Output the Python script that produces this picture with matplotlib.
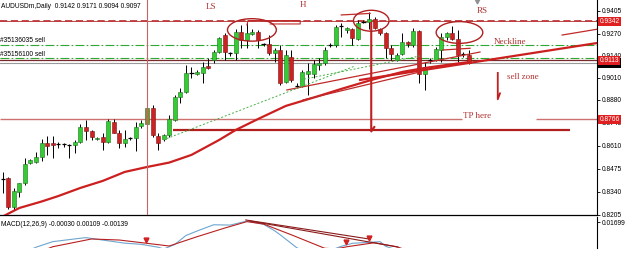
import matplotlib
matplotlib.use('Agg')
import matplotlib.pyplot as plt
from matplotlib.patches import Ellipse
from matplotlib.transforms import blended_transform_factory
import numpy as np

# ---------------- data ----------------
opens = [0.8415, 0.8420, 0.8249, 0.8341, 0.8390, 0.8508, 0.8517, 0.8547, 0.8625, 0.8625,
         0.8621, 0.8620, 0.8614, 0.8615, 0.8635, 0.8723, 0.8699, 0.8649, 0.8664, 0.8635,
         0.8752, 0.8684, 0.8625, 0.8655, 0.8655, 0.8727, 0.8737, 0.8833, 0.8668, 0.8648,
         0.8674, 0.8762, 0.8896, 0.8929, 0.9037, 0.9031, 0.9040, 0.9080, 0.9115, 0.9164,
         0.9262, 0.9155, 0.9155, 0.9282, 0.9233, 0.9266, 0.9282, 0.9209, 0.9207, 0.9158,
         0.9174, 0.8988, 0.9135, 0.8963, 0.8962, 0.9033, 0.9033, 0.9086, 0.9096, 0.9203,
         0.9203, 0.9315, 0.9292, 0.9296, 0.9239, 0.9340, 0.9340, 0.9354, 0.9296, 0.9272,
         0.9184, 0.9115, 0.9150, 0.9223, 0.9203, 0.9287, 0.9033, 0.9115, 0.9118, 0.9174,
         0.9249, 0.9272, 0.9237, 0.9150, 0.9142]
highs = [0.8457, 0.8427, 0.8363, 0.8394, 0.8539, 0.8531, 0.8576, 0.8649, 0.8668, 0.8668,
         0.8635, 0.8629, 0.8621, 0.8645, 0.8739, 0.8762, 0.8703, 0.8661, 0.8686, 0.8766,
         0.8768, 0.8703, 0.8703, 0.8664, 0.8752, 0.8762, 0.8845, 0.8851, 0.8684, 0.8678,
         0.8792, 0.8909, 0.8949, 0.9086, 0.9076, 0.9056, 0.9105, 0.9127, 0.9174, 0.9252,
         0.9272, 0.9164, 0.9297, 0.9321, 0.9340, 0.9297, 0.9292, 0.9217, 0.9262, 0.9184,
         0.9203, 0.9174, 0.9174, 0.8980, 0.9056, 0.9096, 0.9115, 0.9125, 0.9193, 0.9217,
         0.9321, 0.9331, 0.9311, 0.9302, 0.9350, 0.9350, 0.9399, 0.9370, 0.9302, 0.9282,
         0.9203, 0.9155, 0.9272, 0.9225, 0.9302, 0.9292, 0.9105, 0.9125, 0.9192, 0.9274,
         0.9282, 0.9315, 0.9292, 0.9164, 0.9171]
lows = [0.8333, 0.8239, 0.8233, 0.8311, 0.8380, 0.8504, 0.8511, 0.8523, 0.8557, 0.8537,
        0.8599, 0.8605, 0.8537, 0.8568, 0.8625, 0.8645, 0.8645, 0.8647, 0.8586, 0.8629,
        0.8684, 0.8596, 0.8605, 0.8645, 0.8580, 0.8715, 0.8733, 0.8664, 0.8586, 0.8641,
        0.8664, 0.8756, 0.8861, 0.8923, 0.9008, 0.9027, 0.8978, 0.9062, 0.9099, 0.9155,
        0.9115, 0.9139, 0.9115, 0.9184, 0.9184, 0.9262, 0.9184, 0.9199, 0.9145, 0.9105,
        0.8968, 0.8978, 0.8988, 0.8950, 0.8954, 0.8909, 0.9007, 0.9056, 0.9086, 0.9193,
        0.9193, 0.9252, 0.9272, 0.9203, 0.9233, 0.9331, 0.9296, 0.9296, 0.9262, 0.9125,
        0.9115, 0.9111, 0.9145, 0.9193, 0.9193, 0.8978, 0.8939, 0.9096, 0.9109, 0.9105,
        0.9233, 0.9233, 0.9105, 0.9135, 0.9094]
closes = [0.8414, 0.8249, 0.8347, 0.8392, 0.8504, 0.8527, 0.8543, 0.8629, 0.8611, 0.8615,
          0.8618, 0.8619, 0.8615, 0.8635, 0.8723, 0.8699, 0.8664, 0.8658, 0.8635, 0.8758,
          0.8688, 0.8625, 0.8649, 0.8654, 0.8723, 0.8743, 0.8833, 0.8674, 0.8630, 0.8672,
          0.8766, 0.8896, 0.8929, 0.9037, 0.9036, 0.9046, 0.9076, 0.9066, 0.9164, 0.9243,
          0.9164, 0.9154, 0.9282, 0.9233, 0.9272, 0.9282, 0.9233, 0.9208, 0.9158, 0.9174,
          0.8978, 0.9145, 0.8998, 0.8961, 0.9046, 0.9050, 0.9092, 0.9099, 0.9174, 0.9202,
          0.9311, 0.9314, 0.9302, 0.9243, 0.9334, 0.9339, 0.9354, 0.9302, 0.9272, 0.9184,
          0.9150, 0.9145, 0.9223, 0.9207, 0.9287, 0.9033, 0.9074, 0.9114, 0.9178, 0.9252,
          0.9272, 0.9237, 0.9145, 0.9149, 0.9097]

ma_idx = [0, 3, 7, 10, 14, 18, 22, 26, 30, 34, 36, 39, 42, 46, 51, 57, 61, 64, 67, 72, 76, 80, 84]
ma_val = [0.8195, 0.8245, 0.8283, 0.8315, 0.8363, 0.8404, 0.8457, 0.8486, 0.8512, 0.8557,
          0.8592, 0.8645, 0.8704, 0.8768, 0.8845, 0.8904, 0.8945, 0.8974, 0.9003, 0.9045,
          0.9068, 0.9086, 0.9103]

price_ticks = [0.9405, 0.9270, 0.9140, 0.9010, 0.8880, 0.8745, 0.8610, 0.8475, 0.8340, 0.8205]
price_tick_labels = ['0.9405', '0.9270', '0.9140', '0.9010', '0.8880', '0.8745', '0.8610',
                     '0.8475', '0.8340', '0.8205']

level_top = 0.9342
order1_price, order1_label = 0.9203, '#35136035 sell'
order2_price, order2_label = 0.9125, '#35156100 sell'
level_mid = 0.9113
bid_price = 0.9097
tp_price = 0.8766
target_price = 0.8702
target_span = [30.7, 102.2]
tp_gap = [82.8, 96.1]
separator_idx = 26.0

neck_idx = [51.2, 86.0]
neck_val = [0.8939, 0.9162]
neck_ext_idx = [100.8, 107.1]
neck_ext_val = [0.9262, 0.9296]
trend_idx = [64.4, 107.1]
trend_val = [0.8998, 0.9215]
trend2_idx = [54.1, 75.2]
trend2_val = [0.8880, 0.9045]
rs_seg_idx = [79.3, 84.2]
rs_seg_val = [0.9174, 0.9184]
h_seg_idx = [61.0, 66.2]
h_seg_val = [0.9380, 0.9389]
ls_bracket_idx = [44.0, 44.2, 53.6, 53.6, 48.2]
ls_bracket_val = [0.9321, 0.9347, 0.9347, 0.9327, 0.9327]
green1_idx = [28.9, 63.5]
green1_val = [0.8645, 0.9080]
green2_idx = [53.6, 75.2]
green2_val = [0.8998, 0.9139]
measure_idx = [66.4, 66.4, 66.95]
measure_val = [0.9333, 0.8695, 0.8721]
sell_idx = [89.2, 89.2, 89.6]
sell_val = [0.9039, 0.8884, 0.8919]

ellipse_centers_idx = [44.9, 66.4, 82.3]
ellipse_centers_val = [0.9292, 0.9346, 0.9277]
ellipse_w = [8.8, 6.4, 8.4]
ellipse_h = [0.0132, 0.0123, 0.0128]

labels_text = ['LS', 'H', 'RS', 'Neckline', 'sell zone', 'TP here']
labels_idx = [36.6, 53.6, 85.4, 88.5, 90.8, 83.0]
labels_val = [0.9427, 0.9438, 0.9403, 0.9223, 0.9013, 0.8786]

macd_idx = [5, 6, 9, 14, 15, 17, 22, 25, 28, 29, 31, 33, 35, 38, 41, 44, 47, 49, 50, 53,
            55, 59, 61, 63, 68, 69, 72, 84]
macd_val = [-0.0015, 0.0002, 0.0039, 0.0062, 0.0066, 0.0055, 0.0029, 0.0021, 0.0002, -0.0010,
            0.0020, 0.0080, 0.0110, 0.0152, 0.0150, 0.0177, 0.0155, 0.0112, 0.0085, -0.0002,
            -0.0030, -0.0020, 0.0008, 0.0028, 0.0039, 0.0008, -0.0030, -0.0050]
signal_idx = [8, 9, 16, 21, 26, 30, 35, 40, 44, 47, 52, 58, 60, 62, 67, 71, 73, 84]
signal_val = [-0.0010, 0.0005, 0.0057, 0.0050, 0.0028, 0.0010, 0.0072, 0.0130, 0.0173, 0.0157,
              0.0085, -0.0005, -0.0010, 0.0005, 0.0032, 0.0005, -0.0020, -0.0040]
macd_t1_idx = [43.8, 66.0]
macd_t1_val = [0.0184, 0.0057]
macd_t2_idx = [44.6, 71.2]
macd_t2_val = [0.0177, 0.0003]
macd_arrow_idx = [25.8, 61.9, 66.0]
macd_arrow_val = [0.0049, 0.0034, 0.0063]
macd_tick = 0.01699

header_main = 'AUDUSDm,Daily  0.9142 0.9171 0.9094 0.9097'
header_macd = 'MACD(12,26,9) -0.00030 0.00109 -0.00139'

# ---------------- figure ----------------
SANS = 'Liberation Sans'
SERIF = 'Liberation Serif'
RED = '#b03030'
FS = 4.8

fig = plt.figure(figsize=(6.25, 2.78), dpi=100, facecolor='white')
ax = fig.add_axes([0, 1 - 215 / 278, 597 / 625, 215 / 278])
axm = fig.add_axes([0, 1 - 247.5 / 278, 597 / 625, 30.5 / 278])

xlim = (-0.49, 107.08)
ax.set_xlim(*xlim)
ax.set_ylim(0.82037, 0.94679)

o = np.array(opens); h = np.array(highs); l = np.array(lows); c = np.array(closes)
x = np.arange(len(o))
up = c > o + 0.00035
down = c < o - 0.00035
doji = ~(up | down)

# horizontal levels
ax.axhline(level_top, color=RED, lw=0.6, zorder=2)
ax.axhline(level_top, color='#c03a3a', lw=1.3, ls=(0, (4, 2)), zorder=2)
ax.axhline(order1_price, color='#2fa82f', lw=0.8, ls=(0, (8, 2, 1.5, 2)), zorder=2)
ax.axhline(order2_price, color='#2fa82f', lw=0.8, ls=(0, (8, 2, 1.5, 2)), zorder=2)
ax.axhline(level_mid, color='#7a2a2a', lw=0.9, zorder=2)
ax.axhline(bid_price, color='#9a9a9a', lw=0.8, zorder=2)
ax.hlines(tp_price, xlim[0], tp_gap[0], color='#cc7070', lw=1.0, zorder=2)
ax.hlines(tp_price, tp_gap[1], xlim[1], color='#cc7070', lw=1.0, zorder=2)
ax.hlines(target_price, target_span[0], target_span[1], color='#b01e1e', lw=1.6, zorder=2)
ax.axvline(separator_idx, color='#c86464', lw=0.8, zorder=6)

# candles
ax.vlines(x, l, h, color='black', lw=0.7, zorder=3)
up_colors = ['#8a8a30' if i == 26 else '#33cc33' for i in x[up]]
ax.bar(x[up], (c - o)[up], bottom=o[up], width=0.72, color=up_colors,
       edgecolor='#1f6f1f', linewidth=0.4, zorder=4)
ax.bar(x[down], (o - c)[down], bottom=c[down], width=0.72, color='#cc2222',
       edgecolor='#7a1515', linewidth=0.4, zorder=4)
ax.hlines(((o + c) / 2)[doji], x[doji] - 0.38, x[doji] + 0.38, color='black', lw=0.9, zorder=4)

# indicator & drawings
ax.plot(ma_idx, ma_val, color='#cc2020', lw=1.6, zorder=5)
ax.plot(trend_idx, trend_val, color='#cc2020', lw=1.6, zorder=5)
ax.plot(neck_idx, neck_val, color='#c02a2a', lw=0.9, zorder=5)
ax.plot(neck_ext_idx, neck_ext_val, color='#c02a2a', lw=0.9, zorder=5)
ax.plot(trend2_idx, trend2_val, color='#c02a2a', lw=0.9, zorder=5)
ax.plot(rs_seg_idx, rs_seg_val, color='#c02a2a', lw=0.9, zorder=5)
ax.plot(h_seg_idx, h_seg_val, color='#c02a2a', lw=0.9, zorder=5)
ax.plot(ls_bracket_idx, ls_bracket_val, color='#c02a2a', lw=0.8, zorder=5)
ax.plot(green1_idx, green1_val, color='#44b044', lw=0.7, ls=(0, (2, 2)), zorder=5)
ax.plot(green2_idx, green2_val, color='#44b044', lw=0.7, ls=(0, (2, 2)), zorder=5)
ax.plot(measure_idx, measure_val, color='#c02020', lw=1.5, zorder=6)
ax.plot(sell_idx, sell_val, color='#c02020', lw=1.3, zorder=6)

for cx, cy, w, hh in zip(ellipse_centers_idx, ellipse_centers_val, ellipse_w, ellipse_h):
    ax.add_patch(Ellipse((cx, cy), w, hh, fill=False, edgecolor='#b02020', lw=1.0, zorder=6))

for t, xi, yv in zip(labels_text, labels_idx, labels_val):
    ax.text(xi, yv, t, fontsize=6.5, family=SERIF, color=RED, ha='left', va='center', zorder=7)

# order labels and header
ax.text(-0.4, order1_price + 0.0004, order1_label, fontsize=FS, family=SANS, color='black',
        ha='left', va='bottom', zorder=7)
ax.text(-0.4, order2_price + 0.0004, order2_label, fontsize=FS, family=SANS, color='black',
        ha='left', va='bottom', zorder=7)
ax.text(0.002, 0.972, header_main, transform=ax.transAxes, fontsize=FS, family=SANS,
        color='black', ha='left', va='center', zorder=7)
ax.plot([85.5], [0.9462], marker='v', color='#909090', ms=3.5, clip_on=False, zorder=7)

# axis styling
ax.set_xticks([])
ax.yaxis.tick_right()
ax.set_yticks(price_ticks)
ax.set_yticklabels(price_tick_labels, fontsize=FS, family=SANS)
ax.tick_params(axis='y', direction='out', length=2, width=0.6, pad=1.5, colors='black')
for s in ['top', 'left']:
    ax.spines[s].set_visible(False)
ax.spines['bottom'].set_linewidth(0.9)
ax.spines['right'].set_linewidth(0.8)

# price boxes on axis
tr = blended_transform_factory(ax.transAxes, ax.transData)
ax.text(1.004, bid_price, '0.9097', transform=tr, fontsize=FS, family=SANS, color='white',
        ha='left', va='center', clip_on=False, zorder=20,
        bbox=dict(boxstyle='square,pad=0.2', fc='black', ec='none'))
for pv, lab in [(level_top, '0.9342'), (level_mid, '0.9113'), (tp_price, '0.8766')]:
    ax.text(1.004, pv, lab, transform=tr, fontsize=FS, family=SANS, color='white',
            ha='left', va='center', clip_on=False, zorder=21,
            bbox=dict(boxstyle='square,pad=0.2', fc='#e02020', ec='none'))

# ---------------- MACD panel ----------------
axm.set_xlim(*xlim)
axm.set_ylim(0.0, 0.0204)
axm.plot(macd_idx, macd_val, color='#6ea6cf', lw=0.8, zorder=3)
axm.plot(signal_idx, signal_val, color='#b82020', lw=0.8, zorder=4)
axm.plot(macd_t1_idx, macd_t1_val, color='#8b1a1a', lw=0.8, zorder=4)
axm.plot(macd_t2_idx, macd_t2_val, color='#8b1a1a', lw=0.8, zorder=4)
axm.plot(macd_arrow_idx, macd_arrow_val, ls='none', marker='v', color='#d02020', ms=3.5, zorder=5)
axm.text(0.002, 0.74, header_macd, transform=axm.transAxes, fontsize=FS, family=SANS,
         color='black', ha='left', va='center')
axm.set_xticks([])
axm.yaxis.tick_right()
axm.set_yticks([macd_tick])
axm.set_yticklabels(['0.01699'], fontsize=FS, family=SANS)
axm.tick_params(axis='y', direction='out', length=2, width=0.6, pad=1.5)
for s in ['top', 'left', 'bottom']:
    axm.spines[s].set_visible(False)
axm.spines['right'].set_linewidth(0.8)

fig.savefig('out.png', dpi=100, facecolor='white')
